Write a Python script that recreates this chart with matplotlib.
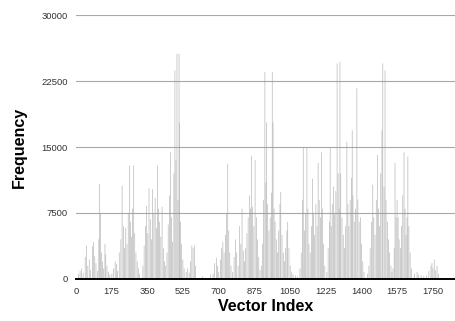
import matplotlib
matplotlib.use("Agg")
import matplotlib.pyplot as plt

# indice do vetor e frequencia (fora daqui tudo e zero)
indices = [
    12, 20, 28, 35, 45, 52, 58, 65, 72, 80, 86, 92, 98, 105, 112, 116, 120, 124, 130, 136, 142, 146, 152, 160, 166,
    176, 185, 192, 198, 204, 212, 220, 226, 232, 238, 244, 250, 256, 262, 267, 272, 278, 283, 288, 294, 300, 306, 312,
    328, 334, 340, 346, 352, 358, 364, 370, 376, 382, 388, 394, 400, 405, 410, 416, 422, 428, 434, 440, 446, 452, 458,
    463, 468, 474, 480, 485, 490, 495, 500, 505, 508, 513, 518, 524, 530,
    540, 548, 555, 562, 568, 574, 580, 586, 620, 660,
    672, 680, 688, 694, 700, 708, 714, 720, 726, 732, 738, 744, 749, 754, 760, 768, 775, 782, 788, 795, 802, 808, 814,
    820, 826, 832, 838, 844, 850, 856, 861, 866, 872, 878, 884, 890, 896, 902,
    908, 914, 920, 926, 931, 935, 940, 946, 952, 958, 962, 966, 971, 976, 982, 988, 994, 1000, 1004, 1010, 1016, 1022,
    1028, 1034, 1038, 1044, 1050, 1058, 1064, 1075, 1085,
    1098, 1104, 1110, 1114, 1120, 1126, 1132, 1137, 1142, 1148, 1154, 1160, 1165, 1170, 1176, 1182, 1187, 1192, 1198,
    1204, 1209, 1214, 1220,
    1230, 1236, 1242, 1246, 1251, 1256, 1262, 1268, 1274, 1280, 1285, 1290, 1294, 1298, 1304, 1310, 1316, 1322, 1328,
    1333, 1338, 1344, 1350, 1354, 1358, 1364, 1370, 1377, 1382, 1388, 1394, 1400, 1406, 1412,
    1430, 1436, 1442, 1448, 1455, 1460, 1466, 1472, 1478, 1483, 1488, 1494, 1500, 1504, 1510, 1515, 1520, 1526, 1532,
    1538, 1544, 1549,
    1554, 1560, 1564, 1569, 1574, 1579, 1584, 1590, 1596, 1602, 1608, 1613, 1618, 1623, 1627, 1632, 1638, 1644,
    1660, 1672, 1680, 1692, 1705, 1718, 1730, 1740, 1745, 1750, 1756, 1762, 1770, 1778,
]
frequencias = [
    600, 900, 1200, 700, 2500, 3800, 1500, 2200, 1000, 3700, 4200, 2600, 1800, 900, 4500, 10800, 7500, 3000, 2000, 1200, 4000, 2800, 1500, 800, 500,
    600, 1200, 2000, 1700, 900, 3000, 4500, 10600, 6000, 3500, 5800, 4000, 7500, 12900, 6500, 4800, 8000, 12900, 5200, 3000, 2000, 1200, 600,
    1500, 3800, 6000, 8300, 5200, 10300, 6800, 4500, 10200, 7500, 9200, 5800, 12900, 8000, 6500, 4800, 8200, 3500, 2000, 1500, 3000, 6200, 9500,
    14400, 7000, 4200, 12000, 23700, 13500, 25600, 9000, 25600, 17800, 6500, 4000, 2200, 1200,
    800, 1200, 700, 2000, 3800, 3500, 3800, 1500, 300, 500,
    600, 1800, 2400, 1500, 800, 2200, 3500, 4200, 3000, 5000, 7500, 13100, 5500, 3000, 1500, 800, 2500, 4500, 3000, 1500, 6000, 4000, 8000,
    3200, 2000, 3500, 5200, 7000, 9500, 8000, 14000, 8200, 6000, 13500, 7000, 4500, 2500, 1000,
    1500, 4000, 9000, 23500, 11000, 17800, 8500, 5500, 7000, 9800, 23500, 17800, 8000, 6500, 4500, 3000, 5500, 8500, 9900, 5000, 3000, 2000,
    3500, 5500, 6500, 3500, 1500, 800, 500, 400, 300,
    1200, 3000, 9000, 15000, 5500, 7500, 15000, 8000, 4000, 3000, 6000, 11400, 7500, 5000, 8500, 6000, 13200, 9000, 7000,
    14400, 8000, 4000, 1500,
    800, 3500, 6500, 15000, 6000, 8500, 10500, 7500, 10000, 24500, 12000, 8000, 24700, 12000, 7000, 5000, 3500, 6000, 15600,
    8500, 6000, 9000, 11500, 16900, 9500, 6500, 8000, 21700, 9000, 6500, 7000, 4000, 2000, 800,
    600, 1500, 3500, 6500, 10700, 7000, 5000, 9000, 14100, 8000, 6000, 12000, 16900, 24500, 10500, 23700, 9000, 6500, 4500,
    3000, 1500, 800,
    1200, 3500, 13200, 7000, 9000, 7000, 4500, 3500, 6000, 9500, 14400, 8000, 5000, 7000, 13900, 6000, 3000, 1200,
    600, 800, 500, 400, 300, 400, 900, 1500, 1800, 1200, 2200, 1000, 1500, 600,
]
xticks = [0, 175, 350, 525, 700, 875, 1050, 1225, 1400, 1575, 1750]
yticks = [0, 7500, 15000, 22500, 30000]

plt.rcParams["font.family"] = ["Liberation Sans", "DejaVu Sans"]

fig = plt.figure(figsize=(4.55, 3.21), dpi=100)
ax = fig.add_axes([0.167, 0.131, 0.833, 0.822])

# snap=False para as barras finas (menos de 1 px) nao sumirem
ax.bar(indices, frequencias, width=3, color="#9c9c9c", alpha=0.8, linewidth=0, zorder=2, snap=False)

ax.set_xlim(0, 1858)
ax.set_ylim(0, 30000)
ax.set_xticks(xticks)
ax.set_yticks(yticks)
ax.set_xticklabels([str(t) for t in xticks], fontsize=6.8, color="#333333")
ax.set_yticklabels([str(t) for t in yticks], fontsize=6.8, color="#333333")
ax.tick_params(length=0, pad=6)
ax.yaxis.grid(True, color="#a8a8a8", linewidth=0.8, zorder=1)
for lado in ["top", "right", "left"]:
    ax.spines[lado].set_visible(False)
ax.spines["bottom"].set_color("black")
ax.spines["bottom"].set_linewidth(1.4)
ax.spines["bottom"].set_zorder(3)

ax.set_xlabel("Vector Index", fontsize=11.5, fontweight="bold", labelpad=2)
ax.set_ylabel("Frequency", fontsize=11.5, fontweight="bold", labelpad=10)

fig.savefig("out.png", dpi=100)
